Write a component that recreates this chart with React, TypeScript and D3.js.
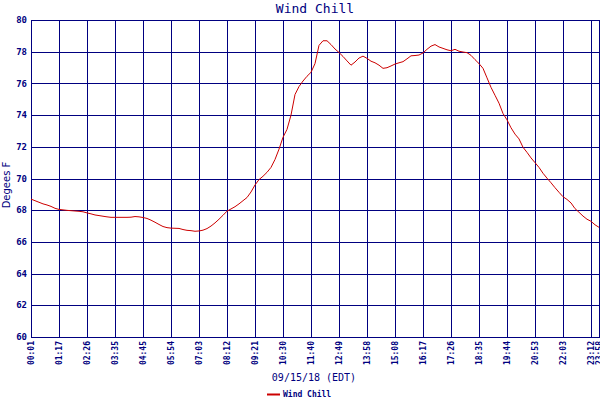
import React from "react";
import * as d3 from "d3";

const tickLabels = [
  "00:01", "01:17", "02:26", "03:35", "04:45", "05:54", "07:03", "08:12", "09:21", "10:30",
  "11:40", "12:49", "13:58", "15:08", "16:17", "17:26", "18:35", "19:44", "20:53", "22:03",
  "23:12", "23:58",
];
const tickIndex = [0, 7, 14, 21, 28, 35, 42, 49, 56, 63, 70, 77, 84, 91, 98, 105, 112, 119, 126, 133, 140, 142];

const yTicks = [60, 62, 64, 66, 68, 70, 72, 74, 76, 78, 80];

const windChill = [
  68.7, 68.6, 68.5, 68.4, 68.33, 68.24, 68.12, 68.05, 68.02, 67.99,
  67.97, 67.95, 67.93, 67.9, 67.83, 67.77, 67.7, 67.66, 67.62, 67.58,
  67.55, 67.55, 67.55, 67.55, 67.55, 67.56, 67.6, 67.58, 67.54, 67.48,
  67.37, 67.24, 67.1, 66.97, 66.9, 66.87, 66.86, 66.85, 66.78, 66.73,
  66.71, 66.67, 66.69, 66.74, 66.84, 67.0, 67.2, 67.43, 67.68, 67.94,
  68.08, 68.22, 68.4, 68.6, 68.8, 69.15, 69.59, 69.93, 70.14, 70.39,
  70.7, 71.2, 71.85, 72.6, 73.1, 74.0, 75.3, 75.8, 76.15, 76.45,
  76.7, 77.25, 78.4, 78.69, 78.69, 78.45, 78.17, 77.95, 77.7, 77.42,
  77.15, 77.35, 77.6, 77.72, 77.58, 77.4, 77.3, 77.15, 76.95, 76.99,
  77.1, 77.22, 77.3, 77.37, 77.55, 77.74, 77.76, 77.79, 77.92, 78.15,
  78.35, 78.45, 78.3, 78.21, 78.12, 78.06, 78.15, 78.03, 77.98, 77.94,
  77.77, 77.5, 77.25, 76.95, 76.35, 75.75, 75.25, 74.75, 74.1, 73.7,
  73.2, 72.8, 72.5, 71.97, 71.65, 71.3, 71.0, 70.7, 70.33, 70.02,
  69.73, 69.42, 69.13, 68.85, 68.68, 68.46, 68.1, 67.87, 67.63, 67.43,
  67.3, 67.08, 66.92,
];

const NAVY = "#000080";
const RED = "#cc0000";
const MONO = "'DejaVu Sans Mono', monospace";

export default function App() {
  const left = 31, right = 599, top = 20, bottom = 337;
  const x = d3.scaleLinear().domain([0, windChill.length - 1]).range([left, right]);
  const y = d3.scaleLinear().domain([60, 80]).range([bottom, top]);
  const line = d3
    .line<number>()
    .x((_, i) => x(i))
    .y((d) => y(d));

  return (
    <svg
      width={600}
      height={400}
      style={{ position: "absolute", left: 0, top: 0, background: "#fff" }}
    >
      <rect x={0} y={0} width={600} height={400} fill="#fff" />
      <text x={315} y={13} textAnchor="middle" fill={NAVY} fontFamily={MONO} fontSize={13}>
        Wind Chill
      </text>
      <g shapeRendering="crispEdges" stroke={NAVY} strokeWidth={1}>
        {yTicks.map((t) => (
          <line key={"h" + t} x1={left} x2={right} y1={Math.round(y(t)) + 0.5} y2={Math.round(y(t)) + 0.5} />
        ))}
        {tickIndex.map((t) => (
          <line key={"v" + t} x1={Math.round(x(t)) + 0.5} x2={Math.round(x(t)) + 0.5} y1={top} y2={bottom} />
        ))}
        <rect x={left + 0.5} y={top + 0.5} width={right - left} height={bottom - top} fill="none" />
      </g>
      {yTicks.map((t) => (
        <text
          key={"yl" + t}
          x={27}
          y={y(t)}
          dy="0.35em"
          textAnchor="end"
          fill={NAVY}
          fontFamily={MONO}
          fontWeight="bold"
          fontSize={9}
        >
          {t}
        </text>
      ))}
      {tickIndex.map((t, i) => (
        <text
          key={"xl" + t}
          transform={`translate(${x(t) + 0.5},341) rotate(-90)`}
          dy="0.35em"
          textAnchor="end"
          fill={NAVY}
          fontFamily={MONO}
          fontWeight="bold"
          fontSize={8}
        >
          {tickLabels[i]}
        </text>
      ))}
      <text
        transform="translate(10,185) rotate(-90)"
        textAnchor="middle"
        fill={NAVY}
        fontFamily="'DejaVu Sans', sans-serif"
        fontSize={10}
      >
        Degees F
      </text>
      <text x={314} y={381} textAnchor="middle" fill={NAVY} fontFamily={MONO} fontSize={10}>
        09/15/18 (EDT)
      </text>
      <path d={line(windChill) || ""} fill="none" stroke={RED} strokeWidth={1} />
      <line x1={267} x2={280} y1={394.5} y2={394.5} stroke={RED} strokeWidth={2} />
      <text x={283} y={397} fill={NAVY} fontFamily={MONO} fontWeight="bold" fontSize={8}>
        Wind Chill
      </text>
    </svg>
  );
}
